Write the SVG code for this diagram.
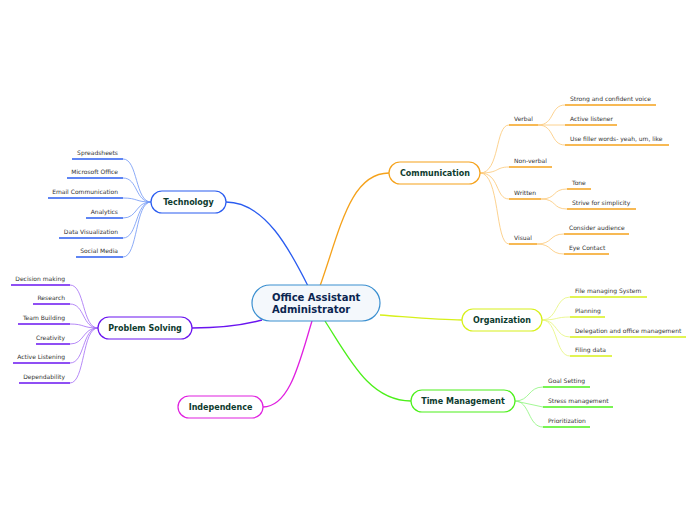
<svg xmlns="http://www.w3.org/2000/svg" width="696" height="520" viewBox="0 0 696 520">
<style>
.t{font-family:"DejaVu Sans",Verdana,sans-serif;font-size:6px;fill:#333}
.r{text-anchor:end}
.m{font-family:"DejaVu Sans",Verdana,sans-serif;font-size:8px;font-weight:bold;fill:#0d3b2e;text-anchor:middle}
.n{fill:#fff;stroke-width:1.2}
.c{fill:none;stroke-width:1.3}
.s{fill:none;stroke-width:0.8}
.u{stroke-width:1.5}
</style>
<rect width="696" height="520" fill="#fff"/>
<g id="connectors">
<path class="c" stroke="#f5a21b" d="M320,286 C340,230 350,173 389,173"/>
<path class="c" stroke="#2a5cf0" d="M308,286 C290,250 265,202 226,202"/>
<path class="c" stroke="#6a14f0" d="M262,320 C240,326 220,328 192,328"/>
<path class="c" stroke="#e020e0" d="M312,321 C300,360 290,407 263,407"/>
<path class="c" stroke="#d7f01a" d="M380,315 C420,318 440,320 462,320"/>
<path class="c" stroke="#4cf01a" d="M325,321 C350,360 370,401 411,401"/>
<g stroke="#fbc673" class="s">
<path d="M480,173 C500,173 495,125 509,125"/><path d="M480,173 C500,173 495,167 509,167"/>
<path d="M480,173 C500,173 495,199 509,199"/><path d="M480,173 C500,173 495,244 509,244"/>
<path d="M538,125 C555,125 550,105 565,105"/><path d="M538,125 L565,125"/><path d="M538,125 C555,125 550,145 565,145"/>
<path d="M541,199 C557,199 552,189 567,189"/><path d="M541,199 C557,199 552,209 567,209"/>
<path d="M537,244 C553,244 549,234 564,234"/><path d="M537,244 C553,244 549,254 564,254"/>
</g>
<g stroke="#6f96f5" class="s">
<path d="M151,202 C135,202 138,159 123,159"/><path d="M151,202 C135,202 138,178 123,178"/>
<path d="M151,202 C135,202 138,198 123,198"/><path d="M151,202 C135,202 138,218 123,218"/>
<path d="M151,202 C135,202 138,238 123,238"/><path d="M151,202 C135,202 138,257 123,257"/>
</g>
<g stroke="#a36cf5" class="s">
<path d="M98,328 C82,328 85,285 70,285"/><path d="M98,328 C82,328 85,304 70,304"/>
<path d="M98,328 C82,328 85,324 70,324"/><path d="M98,328 C82,328 85,344 70,344"/>
<path d="M98,328 C82,328 85,363 70,363"/><path d="M98,328 C82,328 85,383 70,383"/>
</g>
<g stroke="#e6f57a" class="s">
<path d="M542,320 C558,320 555,297 570,297"/><path d="M542,320 C558,320 555,317 570,317"/>
<path d="M542,320 C558,320 555,337 570,337"/><path d="M542,320 C558,320 555,356 570,356"/>
</g>
<g stroke="#8cf57a" class="s">
<path d="M515,401 C530,401 528,387 543,387"/><path d="M515,401 L543,407"/>
<path d="M515,401 C530,401 528,427 543,427"/>
</g>
</g>
<g id="central"><rect x="252" y="285" width="128" height="36" rx="18" fill="#f4f8fc" stroke="#3a8fd0" stroke-width="1.2"/>
<text x="272" y="301" style="font-family:'DejaVu Sans',Verdana,sans-serif;font-size:10px;font-weight:bold;fill:#0a2550">Office Assistant</text>
<text x="272" y="313" style="font-family:'DejaVu Sans',Verdana,sans-serif;font-size:10px;font-weight:bold;fill:#0a2550">Administrator</text></g>
<g id="communication"><rect class="n" x="389" y="162" width="91" height="22" rx="11" stroke="#f5a21b"/><text class="m" x="435" y="176">Communication</text>
<g stroke="#f5a21b" class="u">
<line x1="509" y1="125" x2="538" y2="125"/><line x1="565" y1="105" x2="656" y2="105"/><line x1="565" y1="125" x2="617" y2="125"/><line x1="565" y1="145" x2="669" y2="145"/>
<line x1="509" y1="167" x2="552" y2="167"/><line x1="509" y1="199" x2="541" y2="199"/><line x1="567" y1="189" x2="591" y2="189"/><line x1="567" y1="209" x2="636" y2="209"/>
<line x1="509" y1="244" x2="537" y2="244"/><line x1="564" y1="234" x2="629" y2="234"/><line x1="564" y1="254" x2="609" y2="254"/></g>
<text class="t" x="514" y="121">Verbal</text><text class="t" x="570" y="101">Strong and confident voice</text><text class="t" x="570" y="121">Active listener</text><text class="t" x="570" y="141">Use filler words- yeah, um, like</text>
<text class="t" x="514" y="163">Non-verbal</text><text class="t" x="514" y="195">Written</text><text class="t" x="572" y="185">Tone</text><text class="t" x="572" y="205">Strive for simplicity</text>
<text class="t" x="514" y="240">Visual</text><text class="t" x="569" y="230">Consider audience</text><text class="t" x="569" y="250">Eye Contact</text></g>
<g id="technology"><rect class="n" x="151" y="191" width="75" height="22" rx="11" stroke="#2a5cf0"/><text class="m" x="188.5" y="205">Technology</text>
<g stroke="#2a5cf0" class="u"><line x1="72" y1="159" x2="123" y2="159"/><line x1="67" y1="178" x2="123" y2="178"/><line x1="48" y1="198" x2="123" y2="198"/><line x1="86" y1="218" x2="123" y2="218"/><line x1="59" y1="238" x2="123" y2="238"/><line x1="76" y1="257" x2="123" y2="257"/></g>
<text class="t r" x="118" y="155">Spreadsheets</text><text class="t r" x="118" y="174">Microsoft Office</text><text class="t r" x="118" y="194">Email Communication</text><text class="t r" x="118" y="214">Analytics</text><text class="t r" x="118" y="234">Data Visualization</text><text class="t r" x="118" y="253">Social Media</text></g>
<g id="problem-solving"><rect class="n" x="98" y="317" width="94" height="22" rx="11" stroke="#6a14f0"/><text class="m" x="145" y="331">Problem Solving</text>
<g stroke="#6a14f0" class="u"><line x1="11" y1="285" x2="70" y2="285"/><line x1="33" y1="304" x2="70" y2="304"/><line x1="18" y1="324" x2="70" y2="324"/><line x1="36" y1="344" x2="70" y2="344"/><line x1="13" y1="363" x2="70" y2="363"/><line x1="19" y1="383" x2="70" y2="383"/></g>
<text class="t r" x="65" y="281">Decision making</text><text class="t r" x="65" y="300">Research</text><text class="t r" x="65" y="320">Team Building</text><text class="t r" x="65" y="340">Creativity</text><text class="t r" x="65" y="359">Active Listening</text><text class="t r" x="65" y="379">Dependability</text></g>
<g id="independence"><rect class="n" x="178" y="396" width="85" height="22" rx="11" stroke="#e020e0"/><text class="m" x="220.5" y="410">Independence</text></g>
<g id="organization"><rect class="n" x="462" y="309" width="80" height="22" rx="11" stroke="#d7f01a"/><text class="m" x="502" y="323">Organization</text>
<g stroke="#d7f01a" class="u"><line x1="570" y1="297" x2="647" y2="297"/><line x1="570" y1="317" x2="605" y2="317"/><line x1="570" y1="337" x2="686" y2="337"/><line x1="570" y1="356" x2="612" y2="356"/></g>
<text class="t" x="575" y="293">File managing System</text><text class="t" x="575" y="313">Planning</text><text class="t" x="575" y="333">Delegation and office management</text><text class="t" x="575" y="352">Filing data</text></g>
<g id="time-management"><rect class="n" x="411" y="390" width="104" height="22" rx="11" stroke="#4cf01a"/><text class="m" x="463" y="404">Time Management</text>
<g stroke="#4cf01a" class="u"><line x1="543" y1="387" x2="590" y2="387"/><line x1="543" y1="407" x2="613" y2="407"/><line x1="543" y1="427" x2="590" y2="427"/></g>
<text class="t" x="548" y="383">Goal Setting</text><text class="t" x="548" y="403">Stress management</text><text class="t" x="548" y="423">Prioritization</text></g>
</svg>
